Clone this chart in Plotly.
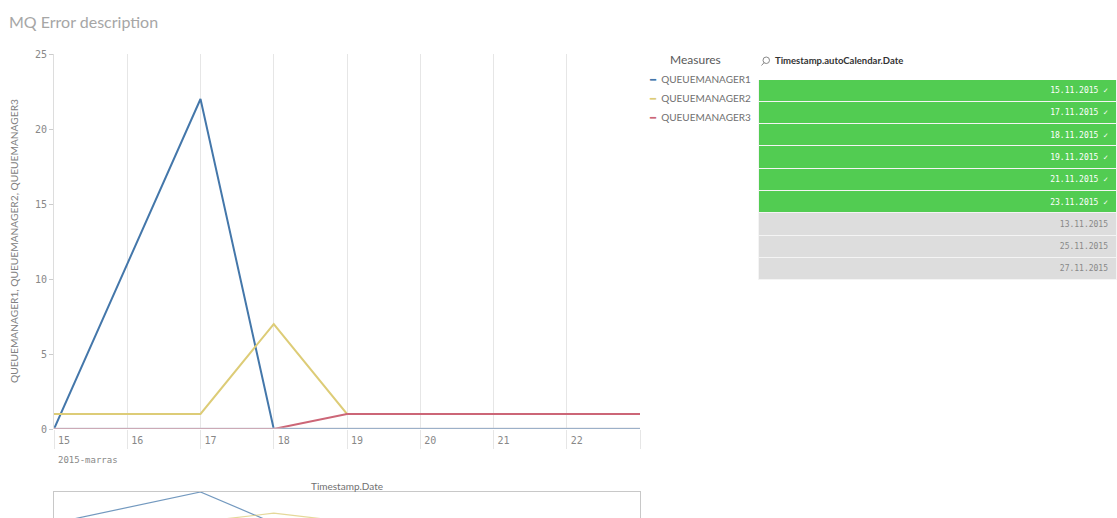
import plotly.graph_objects as go

W, H = 1117, 518

# ---------------- data ----------------
dates = ["2015-11-15", "2015-11-17", "2015-11-18", "2015-11-19", "2015-11-21", "2015-11-23"]
qm1 = [0, 22, 0, 0, 0, 0]
qm2 = [1, 1, 7, 1, 1, 1]
qm3 = [0, 0, 0, 1, 1, 1]
series_names = ["QUEUEMANAGER1", "QUEUEMANAGER2", "QUEUEMANAGER3"]

x_tick_days = ["2015-11-15", "2015-11-16", "2015-11-17", "2015-11-18", "2015-11-19",
               "2015-11-20", "2015-11-21", "2015-11-22", "2015-11-23"]
x_tick_labels = ["15", "16", "17", "18", "19", "20", "21", "22", ""]
y_ticks = [0, 5, 10, 15, 20, 25]

table_dates = ["15.11.2015", "17.11.2015", "18.11.2015", "19.11.2015", "21.11.2015",
               "23.11.2015", "13.11.2015", "25.11.2015", "27.11.2015"]
table_selected = [True, True, True, True, True, True, False, False, False]

title_text = "MQ Error description"
y_title = "QUEUEMANAGER1, QUEUEMANAGER2, QUEUEMANAGER3"
x_sub_label = "2015-marras"
legend_title = "Measures"
table_title = "Timestamp.autoCalendar.Date"
mini_title = "Timestamp.Date"

# ---------------- styles ----------------
colors = ["#4477aa", "#ddcc77", "#cc6677"]
GREEN = "#52cc52"
GREY = "#dddddd"


def px(x):
    return x / W


def py(y):
    return 1 - y / H


series = [qm1, qm2, qm3]
fig = go.Figure()

# main chart
for name, vals, c in zip(series_names, series, colors):
    fig.add_trace(go.Scatter(x=dates, y=vals, mode="lines", name=name,
                             line=dict(color=c, width=2), showlegend=False,
                             xaxis="x", yaxis="y"))
# mini (range selector) chart
for name, vals, c in zip(series_names, series, colors):
    fig.add_trace(go.Scatter(x=dates, y=vals, mode="lines", name=name,
                             line=dict(color=c, width=1.2), opacity=0.75,
                             showlegend=False, xaxis="x2", yaxis="y2",
                             hoverinfo="skip"))

# table
cell_vals = [d + (" ✓" if s else "") for d, s in zip(table_dates, table_selected)]
fig.add_trace(go.Table(
    domain=dict(x=[px(758), 1], y=[py(282), py(50)]),
    columnwidth=[1],
    header=dict(values=[""], height=29, fill_color="white",
                line=dict(color="white", width=1)),
    cells=dict(values=[cell_vals], height=22.3, align="right",
               fill=dict(color=[[GREEN if s else GREY for s in table_selected]]),
               line=dict(color="#f4f4f4", width=1),
               font=dict(family="DejaVu Sans Mono", size=8,
                         color=[["white" if s else "#888888" for s in table_selected]])),
))

mono = "DejaVu Sans Mono"
fig.update_layout(
    width=W, height=H,
    margin=dict(l=0, r=0, t=0, b=0, autoexpand=False),
    paper_bgcolor="white", plot_bgcolor="white",
    xaxis=dict(domain=[px(54), px(640)], type="date",
               range=["2015-11-15", "2015-11-23"],
               tickmode="array", tickvals=x_tick_days, ticktext=x_tick_labels,
               showgrid=True, gridcolor="#e6e6e6", gridwidth=1,
               ticks="outside", ticklen=19, tickcolor="#e6e6e6", tickwidth=1,
               ticklabelshift=10, ticklabelstandoff=-17,
               tickfont=dict(family=mono, size=10, color="#888888"),
               showline=False, zeroline=False, anchor="y", fixedrange=True,
               automargin=False),
    yaxis=dict(domain=[py(429), py(54)], range=[0, 25],
               tickmode="array", tickvals=y_ticks,
               showgrid=False, zeroline=False,
               ticks="outside", ticklen=4, tickcolor="#cccccc",
               tickfont=dict(family=mono, size=10, color="#888888"),
               showline=True, linecolor="#dddddd", linewidth=1,
               anchor="x", fixedrange=True, automargin=False),
    xaxis2=dict(domain=[px(54), px(640)], type="date",
                range=["2015-11-15", "2015-11-23"], anchor="y2", side="top",
                showgrid=False, showticklabels=False, ticks="", zeroline=False,
                showline=True, linecolor="#c8c8c8", linewidth=1, mirror=False,
                automargin=False),
    yaxis2=dict(domain=[0, py(492)], range=[3.6, 22], anchor="x2",
                showgrid=False, showticklabels=False, ticks="", zeroline=False,
                showline=True, mirror=True, linecolor="#c8c8c8", linewidth=1,
                automargin=False),
    showlegend=False,
)

# semi-transparent baseline drawn over the series (as in the reference)
fig.add_shape(type="line", xref="x domain", yref="y", x0=0, x1=1, y0=0, y1=0,
              layer="above", line=dict(color="rgba(205,208,216,0.65)", width=3))

ann = []
ann.append(dict(text=title_text, x=px(7), y=py(21), xref="paper", yref="paper",
                xanchor="left", yanchor="middle", showarrow=False,
                font=dict(family="Lato", size=16, color="#a6a6a6")))
ann.append(dict(text=y_title, x=px(14), y=py(241), xref="paper", yref="paper",
                xanchor="center", yanchor="middle", textangle=-90, showarrow=False,
                font=dict(family="Lato", size=10.2, color="#808080")))
ann.append(dict(text=x_sub_label, x=px(56), y=py(460), xref="paper", yref="paper",
                xanchor="left", yanchor="middle", showarrow=False,
                font=dict(family=mono, size=9, color="#888888")))
ann.append(dict(text=mini_title, x=px(347), y=py(486), xref="paper", yref="paper",
                xanchor="center", yanchor="middle", showarrow=False,
                font=dict(family="Lato", size=10, color="#707070")))
ann.append(dict(text=legend_title, x=px(695), y=py(60), xref="paper", yref="paper",
                xanchor="center", yanchor="middle", showarrow=False,
                font=dict(family="Lato", size=12, color="#595959")))
for i, (name, c) in enumerate(zip(series_names, colors)):
    ann.append(dict(text=f"<span style='color:{c};font-family:DejaVu Sans'>━</span>  {name}",
                    x=px(647), y=py(79 + 19 * i), xref="paper", yref="paper",
                    xanchor="left", yanchor="middle", showarrow=False,
                    font=dict(family="Lato", size=10, color="#707070")))
ann.append(dict(text=f"<b>{table_title}</b>", x=px(773), y=py(61), xref="paper", yref="paper",
                xanchor="left", yanchor="middle", showarrow=False,
                font=dict(family="Lato", size=9.5, color="#333333")))
fig.update_layout(annotations=ann)

# magnifier icon of the table header
fig.add_shape(type="circle", xref="paper", yref="paper",
              x0=px(763), x1=px(769.5), y0=py(63.5), y1=py(57),
              line=dict(color="#888888", width=1))
fig.add_shape(type="line", xref="paper", yref="paper",
              x0=px(764.2), y0=py(62.5), x1=px(761.5), y1=py(65.5),
              line=dict(color="#888888", width=1))

fig.write_html("out.html")
